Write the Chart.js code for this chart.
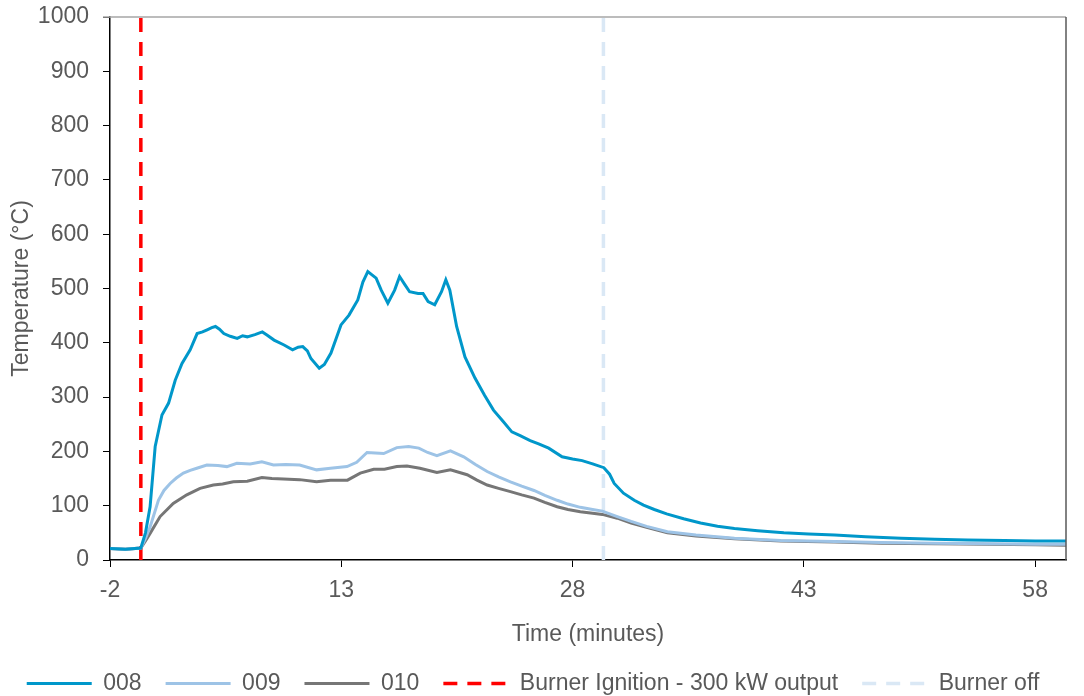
<!DOCTYPE html>
<html>
<head>
<meta charset="utf-8">
<script src="https://cdn.jsdelivr.net/npm/chart.js@4.4.0/dist/chart.umd.min.js"></script>
<style>
  html, body { margin: 0; padding: 0; background: #fff; }
  #wrap { width: 1084px; height: 696px; }
</style>
</head>
<body>
<div id="wrap"><canvas id="myChart" width="1084" height="696"></canvas></div>
<script>
// tick labels
var xTicks = [-2, 13, 28, 43, 58];
var yTicks = [0, 100, 200, 300, 400, 500, 600, 700, 800, 900, 1000];

// series 008
var t008 = [-2, -1, 0, 0.3, 0.6, 0.93, 1.37, 1.8, 2.23, 2.67, 3.2, 3.65, 4.0, 4.3, 4.6, 4.84, 5.1, 5.38, 5.8, 6.25, 6.6, 6.9, 7.4,
  7.88, 8.2, 8.64, 9.29, 9.84, 10.2, 10.5, 10.8, 11.03, 11.57, 11.9, 12.33, 12.98, 13.5, 14.07, 14.4, 14.72, 15.26, 15.59,
  16.02, 16.46, 16.78, 17.1, 17.43, 17.98, 18.3, 18.63, 19.06, 19.5, 19.78, 20.04, 20.48, 21.02, 21.67, 22.3, 22.87, 23.5,
  24.06, 24.6, 25.25, 25.8, 26.45, 27.32, 28.0, 28.62, 29.3, 30.03, 30.4, 30.7, 31.3, 32.0, 32.6, 33.3, 34.1, 35.2, 36.3,
  37.4, 38.5, 40, 41.7, 43.3, 45, 47, 49.3, 51.5, 53.6, 56, 58, 60];
var v008 = [21, 20, 22, 50, 98, 209, 267, 289, 331, 362, 387, 417, 420, 424, 428, 430, 425, 417, 412, 408, 413, 411, 415,
  420, 414, 405, 396, 387, 392, 393, 385, 371, 353, 360, 381, 433, 451, 479, 512, 531, 519, 497,
  473, 497, 522, 508, 494, 491, 491, 476, 470, 494, 516, 497, 430, 374, 335, 303, 276, 255,
  236, 229, 220, 214, 206, 190, 186, 183, 177, 170, 158, 141, 123, 110, 101, 93, 85, 76, 68,
  62, 58, 54, 50, 48, 46, 43, 40, 38, 37, 36, 35, 35];

// series 009
var t009 = [-2, -1, 0, 0.3, 0.6, 1.14, 1.5, 1.9, 2.3, 2.76, 3.2, 3.63, 4.28, 5.0, 5.58, 6.23, 7.09, 7.85, 8.6, 9.4,
  10.3, 11.4, 12.3, 13.37, 14.0, 14.67, 15.2, 15.75, 16.6, 17.37, 18.03, 18.6, 19.2, 20.08, 20.94, 21.7, 22.46, 23.2,
  23.97, 24.7, 25.5, 26.2, 27.0, 27.7, 28.5, 29.3, 29.93, 30.9, 31.8, 32.8, 34.15, 36, 38.5, 41.5, 45, 48, 51.5, 55, 58, 60];
var v009 = [21, 20, 22, 40, 61, 110, 128, 141, 151, 160, 165, 169, 175, 174, 172, 178, 177, 181, 175, 176,
  175, 166, 169, 172, 180, 198, 197, 196, 207, 209, 206, 198, 192, 201, 190, 176, 163, 153,
  144, 136, 128, 119, 110, 103, 97, 93, 90, 80, 71, 62, 52, 46, 40, 36, 34, 32, 31, 30, 29, 29];

// series 010
var t010 = [-2, -1, 0, 0.3, 0.6, 1.25, 2.1, 2.98, 3.84, 4.7, 5.3, 6.0, 6.9, 7.85, 8.5, 9.25, 10.3, 11.4, 12.3, 13.4,
  14.23, 15.1, 15.8, 16.6, 17.26, 18.1, 19.2, 20.08, 21.16, 21.8, 22.46, 23.2, 23.97, 24.7, 25.5, 26.2, 27.0, 27.7,
  28.5, 29.3, 29.93, 30.9, 31.8, 32.8, 34.15, 36, 38.5, 41.5, 45, 48, 51.5, 55, 58, 60];
var v010 = [21, 20, 22, 35, 49, 80, 104, 120, 132, 138, 140, 144, 145, 152, 150, 149, 148, 144, 147, 147,
  160, 167, 167, 172, 173, 169, 161, 166, 157, 147, 138, 132, 126, 120, 114, 106, 98, 93,
  89, 86, 84, 77, 68, 60, 50, 44, 39, 35, 33, 31, 30, 29, 28, 27];

// burner events (minutes)
var ignitionTime = 0;
var burnerOffTime = 30;

function toPoints(ts, vs) {
  return ts.map(function (t, i) { return { x: t, y: vs[i] }; });
}

var fontFam = "'Liberation Sans', Arial, sans-serif";
var textColor = '#595959';

// top and right frame of the plot area
var frame = {
  id: 'frame',
  afterDraw: function (chart) {
    var a = chart.chartArea, ctx = chart.ctx;
    ctx.save();
    ctx.lineWidth = 1.5;
    ctx.strokeStyle = '#a6a6a6';
    ctx.beginPath();
    ctx.moveTo(a.left - 7, a.top);
    ctx.lineTo(a.right, a.top);
    ctx.stroke();
    ctx.strokeStyle = '#595959';
    ctx.beginPath();
    ctx.moveTo(a.right, a.top);
    ctx.lineTo(a.right, a.bottom);
    ctx.stroke();
    ctx.restore();
  }
};

var data = {
  datasets: [{
    label: '008',
    data: toPoints(t008, v008),
    borderColor: '#0097CA',
    borderWidth: 3
  }, {
    label: '009',
    data: toPoints(t009, v009),
    borderColor: '#9DC3E6',
    borderWidth: 3
  }, {
    label: '010',
    data: toPoints(t010, v010),
    borderColor: '#767676',
    borderWidth: 3
  }, {
    label: 'Burner Ignition - 300 kW output',
    data: [{ x: ignitionTime, y: 0 }, { x: ignitionTime, y: 1000 }],
    borderColor: '#FF0000',
    borderWidth: 3.5,
    borderDash: [14, 10]
  }, {
    label: 'Burner off',
    data: [{ x: burnerOffTime, y: 0 }, { x: burnerOffTime, y: 1000 }],
    borderColor: '#DAE8F5',
    borderWidth: 3.5,
    borderDash: [14, 10]
  }]
};

const config = {
  type: 'line',
  data: data,
  plugins: [frame],
  options: {
    responsive: false,
    animation: false,
    layout: { padding: { left: 0, top: 17, right: 18, bottom: 0 } },
    elements: {
      point: { radius: 0 },
      line: { tension: 0, fill: false, borderCapStyle: 'butt' }
    },
    plugins: {
      tooltip: { enabled: false },
      legend: {
        position: 'bottom',
        maxHeight: 48,
        labels: {
          usePointStyle: true,
          pointStyle: 'line',
          pointStyleWidth: 65,
          padding: 24,
          color: textColor,
          font: { family: fontFam, size: 23 },
          // point style legends lose the dash, put it back from the dataset
          generateLabels: function (chart) {
            var items = Chart.defaults.plugins.legend.labels.generateLabels(chart);
            items.forEach(function (it) {
              var ds = chart.data.datasets[it.datasetIndex];
              it.lineDash = ds.borderDash || [];
              it.lineWidth = ds.borderWidth;
              it.strokeStyle = ds.borderColor;
            });
            return items;
          }
        }
      }
    },
    scales: {
      x: {
        type: 'linear',
        min: -2,
        max: 60,
        afterFit: function (s) { s.height = 88; s.paddingLeft = 0; s.paddingRight = 0; },
        afterBuildTicks: function (s) { s.ticks = xTicks.map(function (v) { return { value: v }; }); },
        grid: { drawOnChartArea: false, drawTicks: true, tickLength: 7, color: '#000' },
        border: { display: true, color: '#000', width: 1.5 },
        ticks: {
          color: textColor, padding: 10, font: { family: fontFam, size: 23 },
          callback: function (v) { return String(v); }
        },
        title: {
          display: true,
          text: 'Time (minutes)',
          color: textColor,
          padding: { top: 0, bottom: 0 },
          font: { family: fontFam, size: 23 }
        }
      },
      y: {
        min: 0,
        max: 1000,
        afterFit: function (s) { s.width = 110; s.paddingTop = 0; s.paddingBottom = 0; },
        afterBuildTicks: function (s) { s.ticks = yTicks.map(function (v) { return { value: v }; }); },
        grid: { drawOnChartArea: false, drawTicks: true, tickLength: 7, color: '#000' },
        border: { display: true, color: '#000', width: 1.5 },
        ticks: {
          color: textColor, padding: 14, font: { family: fontFam, size: 23 },
          callback: function (v) { return String(v); }
        },
        title: {
          display: true,
          text: 'Temperature (°C)',
          color: textColor,
          padding: { top: 8, bottom: 0 },
          font: { family: fontFam, size: 23 }
        }
      }
    }
  }
};

const myChart = new Chart(document.getElementById('myChart'), config);
</script>
</body>
</html>
